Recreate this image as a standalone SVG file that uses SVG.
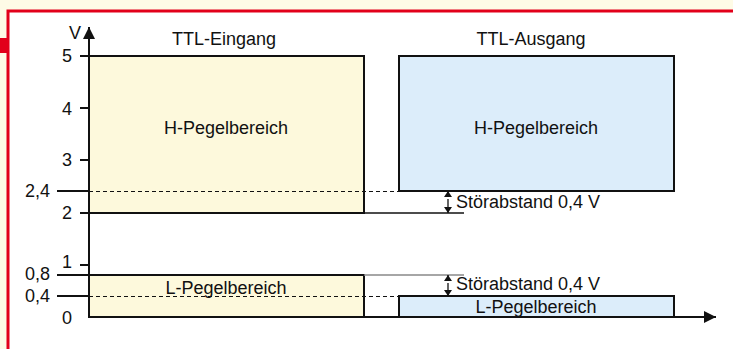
<svg xmlns="http://www.w3.org/2000/svg" width="733" height="349" viewBox="0 0 733 349">
  <defs>
    <style>
      text { font-family: "Liberation Sans", Arial, sans-serif; font-size: 18px; fill: #111; }
      .mid { text-anchor: middle; }
      .end { text-anchor: end; }
      .box { stroke: #111; stroke-width: 2; }
      .in { fill: #fdf9dc; }
      .out { fill: #dcedfa; }
      .axis { stroke: #111; stroke-width: 2; fill: none; }
      .tick { stroke: #111; stroke-width: 2; }
      .dash { stroke: #111; stroke-width: 1; stroke-dasharray: 4 3; }
      .thin { stroke: #111; stroke-width: 1.3; }
      .gray { stroke: #888; stroke-width: 1.5; }
    </style>
    <marker id="ah" viewBox="0 0 12 12" refX="12" refY="6" markerWidth="12" markerHeight="12" markerUnits="userSpaceOnUse" orient="auto">
      <path d="M0,0 L12,6 L0,12 Z" fill="#111"/>
    </marker>
    <marker id="sh" viewBox="0 0 6 8" refX="6" refY="4" markerWidth="6" markerHeight="8" markerUnits="userSpaceOnUse" orient="auto">
      <path d="M0,0 L6,4 L0,8 Z" fill="#111"/>
    </marker>
  </defs>

  <!-- page frame -->
  <rect x="0" y="0" width="733" height="349" fill="#fefbe6"/>
  <rect x="8" y="11" width="730" height="345" fill="#fff" stroke="#e2001a" stroke-width="3"/>
  <rect x="0" y="38" width="8" height="15" fill="#e2001a"/>

  <!-- TTL input levels -->
  <g id="eingang">
    <text class="mid" x="224" y="45">TTL-Eingang</text>
    <g id="eingang-h">
      <rect class="box in" x="89" y="56" width="275" height="157"/>
      <text class="mid" x="226" y="134">H-Pegelbereich</text>
    </g>
    <g id="eingang-l">
      <rect class="box in" x="89" y="275" width="275" height="42"/>
      <text class="mid" x="226" y="294">L-Pegelbereich</text>
    </g>
  </g>

  <!-- TTL output levels -->
  <g id="ausgang">
    <text class="mid" x="531" y="45">TTL-Ausgang</text>
    <g id="ausgang-h">
      <rect class="box out" x="399" y="56" width="275" height="135"/>
      <text class="mid" x="536" y="134">H-Pegelbereich</text>
    </g>
    <g id="ausgang-l">
      <rect class="box out" x="399" y="296" width="275" height="21"/>
      <text class="mid" x="536" y="313">L-Pegelbereich</text>
    </g>
  </g>

  <!-- reference lines and axes -->
  <g id="connectors">
    <line class="dash" x1="89" y1="191.5" x2="399" y2="191.5"/>
    <line class="dash" x1="89" y1="296.5" x2="399" y2="296.5"/>
    <line class="thin" x1="364" y1="213" x2="464" y2="213"/>
    <line class="gray" x1="364" y1="275" x2="464" y2="275"/>

    <line class="axis" x1="89" y1="317" x2="89" y2="27" marker-end="url(#ah)"/>
    <line class="axis" x1="89" y1="317" x2="716" y2="317" marker-end="url(#ah)"/>

    <line class="thin" x1="448" y1="195" x2="448" y2="191" marker-end="url(#sh)"/>
    <line class="thin" x1="448" y1="199" x2="448" y2="213" marker-end="url(#sh)"/>
    <line class="thin" x1="448" y1="279" x2="448" y2="275" marker-end="url(#sh)"/>
    <line class="thin" x1="448" y1="283" x2="448" y2="296" marker-end="url(#sh)"/>
  </g>

  <!-- noise margin labels -->
  <g id="stoerabstand">
    <text x="456" y="208">Störabstand 0,4 V</text>
    <text x="456" y="290">Störabstand 0,4 V</text>
  </g>

  <!-- voltage scale -->
  <g id="scale">
    <text x="69" y="39">V</text>
    <line class="tick" x1="80" y1="56" x2="89" y2="56"/>
    <line class="tick" x1="80" y1="108" x2="89" y2="108"/>
    <line class="tick" x1="80" y1="160" x2="89" y2="160"/>
    <line class="tick" x1="80" y1="213" x2="89" y2="213"/>
    <line class="tick" x1="80" y1="265" x2="89" y2="265"/>
    <line class="tick" x1="57" y1="191" x2="89" y2="191"/>
    <line class="tick" x1="57" y1="275" x2="89" y2="275"/>
    <line class="tick" x1="57" y1="296" x2="89" y2="296"/>
    <text class="end" x="72" y="62">5</text>
    <text class="end" x="72" y="115">4</text>
    <text class="end" x="72" y="166">3</text>
    <text class="end" x="72" y="219">2</text>
    <text class="end" x="72" y="268">1</text>
    <text class="end" x="72" y="324">0</text>
    <text class="end" x="50" y="197">2,4</text>
    <text class="end" x="50" y="280">0,8</text>
    <text class="end" x="50" y="302">0,4</text>
  </g>
</svg>
